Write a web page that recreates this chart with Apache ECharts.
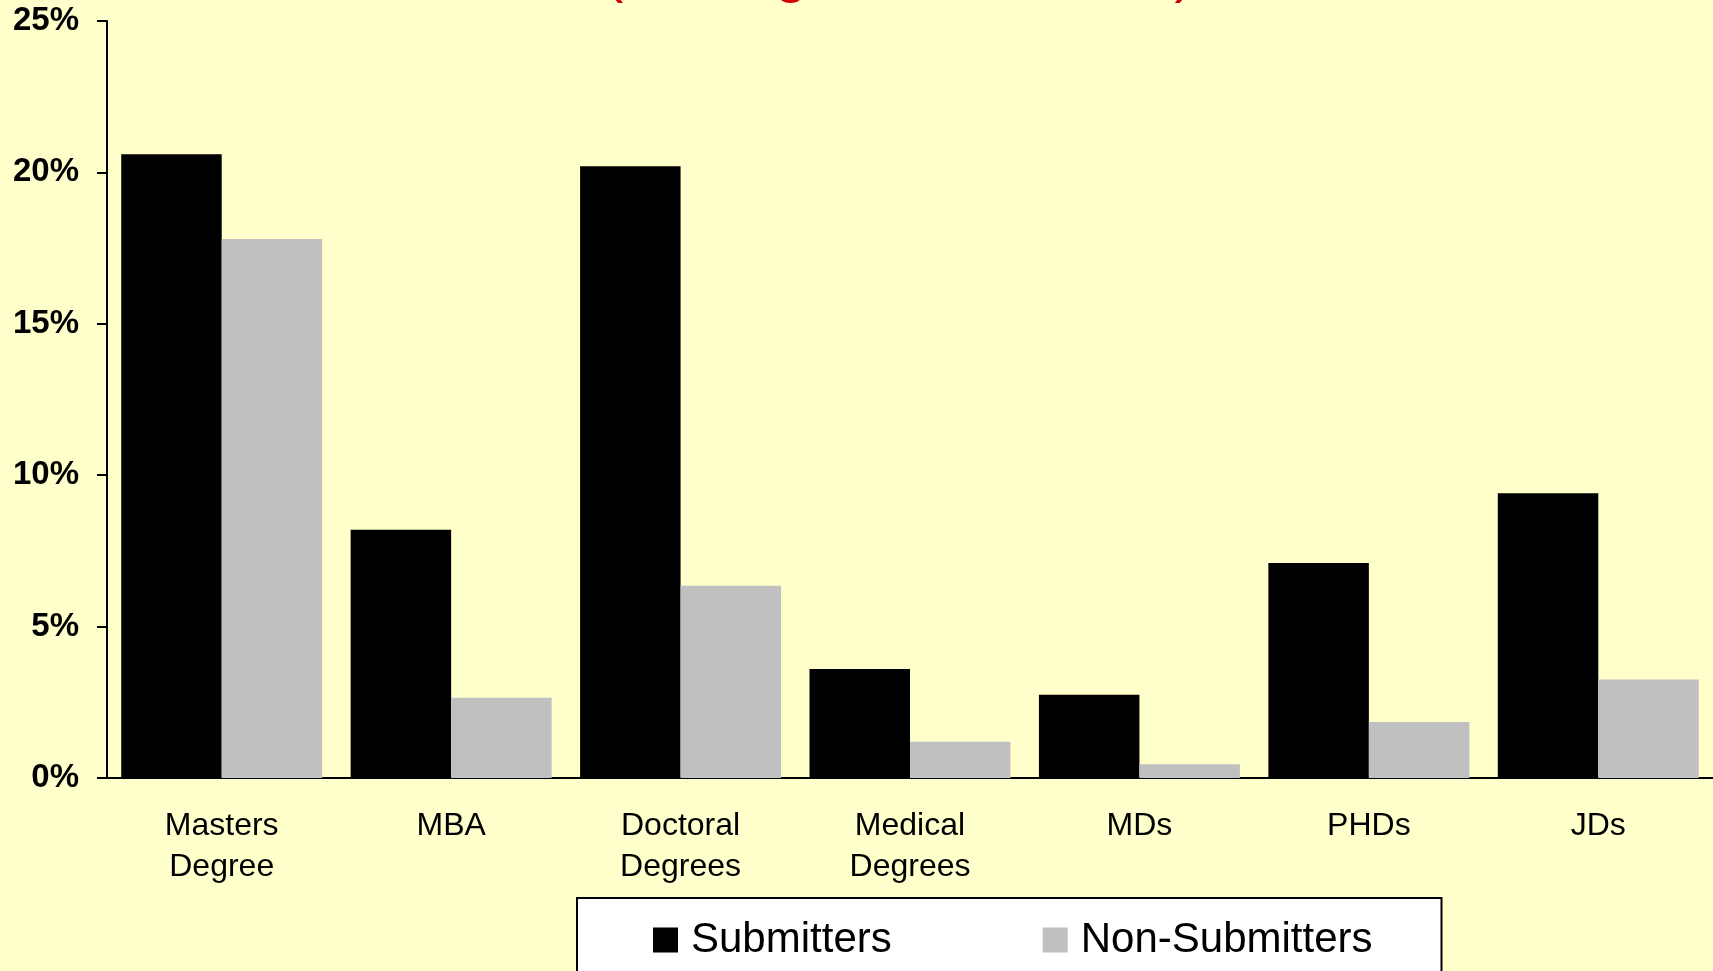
<!DOCTYPE html>
<html>
<head>
<meta charset="utf-8">
<script src="https://cdn.jsdelivr.net/npm/echarts@6/dist/echarts.min.js"></script>
<style>
  html, body { margin: 0; padding: 0; background: #FFFFCC; }
  #main { width: 1713px; height: 971px; }
</style>
</head>
<body>
<div id="main"></div>
<script>
// data (percent)
var categories = ['Masters\nDegree', 'MBA', 'Doctoral\nDegrees', 'Medical\nDegrees', 'MDs', 'PHDs', 'JDs'];
var submitters = [20.6, 8.2, 20.2, 3.6, 2.75, 7.1, 9.4];
var nonSubmitters = [17.8, 2.65, 6.35, 1.2, 0.45, 1.85, 3.25];
var yTicks = { min: 0, max: 25, interval: 5 };

var myChart = echarts.init(document.getElementById('main'));
var option = {
  backgroundColor: '#FFFFCC',
  animation: false,
  textStyle: { fontFamily: 'Liberation Sans, Arial, sans-serif' },
  // title sits mostly above the top edge; only its descenders show
  title: {
    text: '(Among All Graduates)',
    left: 604,
    top: -54,
    padding: 0,
    textStyle: { color: '#d40000', fontSize: 58, fontWeight: 'normal', fontFamily: 'Liberation Sans' }
  },
  legend: {
    data: ['Submitters', 'Non-Submitters'],
    left: 577,
    top: 898,
    orient: 'horizontal',
    backgroundColor: '#ffffff',
    borderColor: '#000000',
    borderWidth: 2,
    padding: [21, 69, 40, 76],
    itemWidth: 25,
    itemHeight: 25,
    itemGap: 151,
    icon: 'rect',
    textStyle: { fontSize: 42, color: '#000', padding: [0, 0, 0, 8], fontFamily: 'Liberation Sans' }
  },
  grid: { left: 107, right: 0, top: 21, bottom: 193, containLabel: false },
  xAxis: {
    type: 'category',
    data: categories,
    axisLine: { lineStyle: { color: '#000', width: 2 } },
    axisTick: { length: 8, lineStyle: { color: '#000', width: 2 } },
    axisLabel: { fontSize: 32, color: '#000', lineHeight: 41, margin: 28, interval: 0, fontFamily: 'Liberation Sans' }
  },
  yAxis: {
    type: 'value',
    min: yTicks.min,
    max: yTicks.max,
    interval: yTicks.interval,
    splitLine: { show: false },
    axisLine: { show: true, lineStyle: { color: '#000', width: 2 } },
    axisTick: { show: true, length: 10, lineStyle: { color: '#000', width: 2 } },
    axisLabel: { formatter: '{value}%', fontSize: 33, fontWeight: 'bold', color: '#000', margin: 28, fontFamily: 'Liberation Sans' }
  },
  series: [
    {
      name: 'Submitters',
      type: 'bar',
      data: submitters,
      barGap: '0%',
      barCategoryGap: '12.4%',
      itemStyle: { color: '#000000' }
    },
    {
      name: 'Non-Submitters',
      type: 'bar',
      data: nonSubmitters,
      itemStyle: { color: '#C0C0C0' }
    }
  ]
};
myChart.setOption(option);
</script>
</body>
</html>
